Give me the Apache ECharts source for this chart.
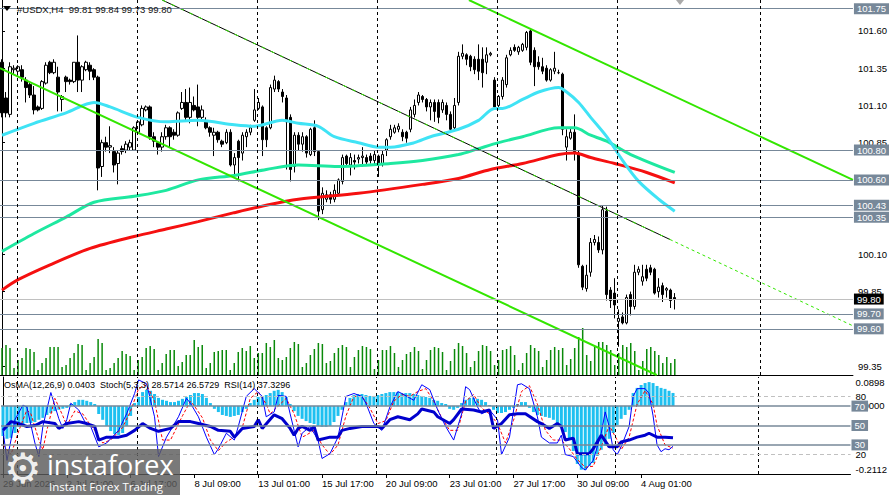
<!DOCTYPE html>
<html>
<head>
<meta charset="utf-8">
<title>USDX H4</title>
<script src="https://cdn.jsdelivr.net/npm/echarts@6/dist/echarts.min.js"></script>
<style>
html, body { margin: 0; padding: 0; background: #fff; }
#chart { width: 890px; height: 495px; }
</style>
</head>
<body>
<div id="chart"></div>
<script>
// slots on the time axis (bars + empty space on the right)
var slotCount = 213;
var labelStep = 16;
var timeLabels = ['29 Jun 2026', '2 Jul 01:00', '6 Jul 17:00', '8 Jul 09:00', '13 Jul 01:00', '15 Jul 17:00',
	'20 Jul 09:00', '23 Jul 01:00', '27 Jul 17:00', '30 Jul 09:00', '4 Aug 01:00'];
var weekBars = [3.7, 33.7, 63.7, 93.6, 123.6, 153.6, 189.3];

// [open, close, low, high]
var candles = [
	[101.39,101.05,101.02,101.41],[101.15,101.05,101.02,101.19],[101.04,101.36,101.02,101.39],[101.34,101.35,101.31,101.37],
	[101.33,101.36,101.30,101.37],[101.34,101.29,101.26,101.37],[101.27,101.22,101.12,101.29],[101.24,101.17,101.15,101.25],
	[101.17,101.07,101.04,101.23],[101.09,101.07,101.06,101.10],[101.08,101.26,101.07,101.27],[101.25,101.37,101.24,101.39],
	[101.39,101.32,101.31,101.40],[101.32,101.39,101.31,101.41],[101.29,101.19,101.06,101.36],[101.14,101.16,101.06,101.17],
	[101.29,101.26,101.19,101.30],[101.27,101.26,101.24,101.28],[101.26,101.39,101.25,101.39],[101.39,101.27,101.19,101.57],
	[101.27,101.36,101.19,101.37],[101.34,101.39,101.33,101.40],[101.37,101.33,101.27,101.39],[101.34,101.29,101.27,101.35],
	[101.29,100.68,100.53,101.30],[100.69,100.85,100.62,100.87],[100.85,100.82,100.79,100.89],[100.82,100.83,100.78,100.96],
	[100.79,100.70,100.65,100.82],[100.71,100.78,100.57,100.80],[100.81,100.79,100.77,100.83],[100.80,100.84,100.78,100.86],
	[100.82,100.85,100.80,100.87],[100.80,100.95,100.80,100.96],[100.92,100.99,100.91,101.00],[100.97,101.08,100.96,101.10],
	[101.07,101.09,101.06,101.10],[101.09,100.89,100.87,101.10],[100.89,100.86,100.82,100.92],[100.85,100.82,100.77,100.86],
	[100.82,100.89,100.79,100.92],[100.89,100.95,100.87,100.97],[100.95,100.89,100.82,100.96],[100.92,100.90,100.87,100.94],
	[100.90,101.05,100.89,101.06],[101.08,101.12,101.07,101.19],[101.12,101.02,101.00,101.21],[101.02,101.12,100.98,101.22],
	[101.10,101.07,101.06,101.16],[101.09,101.02,100.96,101.24],[101.02,101.07,101.00,101.10],[100.99,100.95,100.94,101.02],
	[100.95,100.92,100.89,100.96],[100.90,100.92,100.76,100.95],[100.92,100.87,100.85,100.93],[100.86,100.84,100.82,100.87],
	[100.85,100.92,100.84,100.94],[100.92,100.70,100.69,100.94],[100.70,100.75,100.62,100.78],[100.86,100.75,100.59,100.87],
	[100.78,100.90,100.73,100.92],[100.89,100.92,100.82,100.94],[100.92,100.95,100.90,100.97],[101.00,101.07,100.99,101.21],
	[101.08,101.12,101.07,101.15],[101.09,100.87,100.76,101.10],[100.95,100.87,100.82,100.96],[100.95,101.22,100.94,101.24],
	[101.21,101.27,101.19,101.30],[101.26,101.21,101.19,101.27],[101.19,101.16,101.12,101.21],[101.15,100.99,100.67,101.17],
	[101.02,100.67,100.59,101.04],[100.69,100.90,100.65,100.92],[100.90,100.84,100.80,100.92],[100.84,100.89,100.79,100.92],
	[100.89,100.78,100.75,100.90],[100.77,100.94,100.76,100.95],[100.95,100.79,100.76,101.00],[100.79,100.39,100.33,100.80],
	[100.40,100.51,100.37,100.55],[100.47,100.50,100.45,100.53],[100.50,100.47,100.44,100.52],[100.47,100.53,100.45,100.57],
	[100.51,100.60,100.50,100.61],[100.59,100.75,100.57,100.77],[100.76,100.71,100.69,100.77],[100.70,100.75,100.63,100.78],
	[100.73,100.72,100.67,100.77],[100.74,100.75,100.71,100.77],[100.75,100.76,100.69,100.82],[100.75,100.72,100.70,100.77],
	[100.76,100.73,100.71,100.78],[100.73,100.77,100.70,100.80],[100.76,100.71,100.62,100.77],[100.71,100.77,100.69,100.80],
	[100.80,100.87,100.76,100.88],[100.89,100.94,100.87,100.97],[100.92,100.95,100.91,100.97],[100.94,100.96,100.92,100.98],
	[100.92,100.89,100.86,100.94],[100.92,100.88,100.85,100.93],[100.94,101.07,100.92,101.09],[101.04,101.10,101.02,101.14],
	[101.12,101.17,101.10,101.19],[101.16,101.14,101.12,101.17],[101.14,101.09,101.06,101.15],[101.09,101.12,101.00,101.14],
	[101.12,101.06,100.99,101.14],[101.12,101.02,100.98,101.14],[101.07,101.12,101.05,101.14],[101.10,101.04,101.00,101.12],
	[101.04,100.94,100.92,101.06],[100.95,101.10,100.94,101.15],[101.12,101.43,101.10,101.46],[101.43,101.45,101.41,101.51],
	[101.44,101.41,101.37,101.45],[101.43,101.36,101.33,101.44],[101.41,101.34,101.31,101.43],[101.41,101.33,101.27,101.51],
	[101.41,101.32,101.22,101.49],[101.39,101.44,101.31,101.49],[101.44,101.45,101.43,101.46],[101.27,101.09,101.07,101.29],
	[101.10,101.16,101.08,101.17],[101.16,101.27,101.14,101.29],[101.24,101.42,101.22,101.44],[101.44,101.47,101.43,101.49],
	[101.49,101.47,101.46,101.51],[101.46,101.49,101.44,101.50],[101.47,101.51,101.46,101.52],[101.49,101.59,101.47,101.60],
	[101.60,101.39,101.37,101.61],[101.47,101.36,101.23,101.49],[101.39,101.36,101.34,101.43],[101.36,101.33,101.31,101.42],
	[101.35,101.27,101.26,101.37],[101.27,101.34,101.26,101.35],[101.33,101.35,101.31,101.46],[101.32,101.32,101.31,101.34],
	[101.31,100.94,100.90,101.32],[100.82,100.89,100.73,100.94],[100.88,100.92,100.87,100.95],[100.92,100.79,100.73,101.04],
	[100.78,100.03,100.01,100.80],[100.02,99.88,99.86,100.03],[99.87,99.96,99.85,100.03],[99.98,100.18,99.95,100.21],
	[100.18,100.20,100.16,100.23],[100.18,100.13,100.11,100.22],[100.13,100.40,100.10,100.43],[100.39,99.83,99.79,100.42],
	[99.86,99.79,99.74,99.88],[99.84,99.76,99.67,99.94],[99.65,99.67,99.48,99.73],[99.68,99.64,99.63,99.71],
	[99.64,99.81,99.63,99.83],[99.83,99.75,99.69,99.85],[99.75,99.98,99.73,100.03],[99.98,100.00,99.96,100.02],
	[99.92,99.95,99.89,100.03],[100.00,99.94,99.92,100.03],[100.01,99.98,99.96,100.03],[100.00,99.84,99.83,100.01],
	[99.85,99.88,99.81,99.94],[99.89,99.83,99.78,99.91],[99.86,99.87,99.81,99.88],[99.86,99.79,99.74,99.87],
	[99.81,99.80,99.73,99.84]
];

var volumes = [
	27,30,27,7,15,17,27,26,23,5, 12,17,28,28,28,8,10,17,22,31, 30,5,12,18,36,32,5,7,12,17,
	24,21,19,5,15,18,27,29,26,5, 12,21,25,25,9,13,20,20,35,28, 30,7,12,23,24,25,25,5,12,23,
	27,24,29,17,22,22,32,28,35,17, 15,18,27,33,31,
	8,12,20,26,32,31, 12,14,22,27,30,28, 8,18,25,29,28,26, 6,15,25,25,29,22, 8,15,21,23,28,24,
	6,15,25,28,27,23, 5,14,26,32,29,22, 8,14,24,30,29,24, 10,15,25,26,29,20, 5,12,22,30,27,24,
	8,15,25,28,25,27, 10,16,27,38,47,20, 14,28,33,33,30,25, 10,22,30,28,32,24, 5,14,26,28,24,20,
	12,18,12,16
];

// moving averages sampled along the curve: [bar, price]
var maCyan = [[0,100.90],[8,100.98],[16,101.05],[23,101.12],[27,101.09],[34,101.02],[41,100.99],[49,101.00],[58,100.97],
	[63,100.96],[70,101.00],[74,100.98],[79,100.96],[83,100.89],[89,100.85],[94,100.82],[97,100.82],[103,100.85],[107,100.89],
	[114,100.94],[119,101.00],[123,101.08],[125,101.08],[130,101.14],[134,101.19],[139,101.22],[141,101.19],[144,101.12],
	[147,101.02],[151,100.89],[155,100.73],[159,100.59],[164,100.47],[168,100.39]];
var maGreen = [[0,100.12],[8,100.24],[16,100.35],[23,100.45],[33,100.49],[41,100.53],[49,100.60],[58,100.63],[66,100.67],
	[74,100.70],[84,100.69],[97,100.71],[105,100.73],[114,100.77],[119,100.81],[124,100.85],[130,100.89],[139,100.95],
	[143,100.95],[147,100.90],[151,100.86],[157,100.77],[168,100.65]];
var maRed = [[0,99.86],[4,99.93],[12,100.03],[22,100.14],[33,100.22],[41,100.27],[49,100.32],[58,100.38],[66,100.43],
	[74,100.47],[89,100.51],[105,100.57],[114,100.61],[122,100.67],[130,100.71],[139,100.77],[143,100.78],[147,100.75],
	[153,100.71],[161,100.65],[168,100.58]];

// drawn trend lines: [bar, price]
var channelLow = [[-0.5,101.35],[163.5,99.29]];
var channelHigh = [[116.6,101.808],[212.5,100.60]];
var midLine = [[40,101.808],[166.8,100.20]];
var midRay = [[166.8,100.20],[212.5,99.62]];

var levels = [101.75, 100.80, 100.60, 100.43, 100.35, 99.70, 99.60];
var lastPrice = 99.80;
var priceTicks = [99.35, 99.85, 100.10, 100.85, 101.10, 101.35, 101.60];

var osma = [
	-0.093,-0.102,-0.099,-0.084,-0.065,-0.056,-0.053,-0.053,-0.050,-0.043,-0.037,-0.028,-0.022,-0.016,-0.012,-0.009,
	-0.006,0.006,0.012,0.019,0.019,0.016,0.012,0.006,-0.025,-0.043,-0.062,-0.078,-0.087,-0.090,-0.084,-0.062,
	-0.031,0.009,0.028,0.043,0.050,0.047,0.037,0.025,0.019,0.016,0.012,0.012,0.016,0.022,0.028,0.034,
	0.040,0.040,0.037,0.025,0.009,-0.009,-0.019,-0.028,-0.031,-0.034,-0.031,-0.028,-0.019,-0.009,0.009,0.019,
	0.028,0.031,0.034,0.040,0.047,0.050,0.043,0.028,0.006,-0.016,-0.031,-0.040,-0.047,-0.053,-0.056,-0.062,
	-0.065,-0.065,-0.062,-0.050,-0.031,-0.012,0.012,0.025,0.034,0.037,0.037,0.034,0.031,0.031,0.034,0.037,
	0.040,0.043,0.043,0.043,0.040,0.040,0.040,0.037,0.034,0.031,0.028,0.025,0.019,0.016,0.009,0.006,
	-0.009,-0.012,-0.006,0.009,0.019,0.025,0.025,0.022,0.019,0.012,0.003,-0.012,-0.022,-0.022,-0.019,-0.012,
	-0.006,0.006,0.012,0.012,-0.006,-0.019,-0.028,-0.031,-0.034,-0.037,-0.043,-0.053,-0.065,-0.081,-0.102,-0.140,
	-0.180,-0.198,-0.198,-0.186,-0.177,-0.155,-0.136,-0.124,-0.102,-0.084,-0.059,-0.040,-0.028,-0.012,0.040,0.056,
	0.065,0.071,0.074,0.071,0.062,0.056,0.053,0.047,0.0403
];

var stochMain = [[0,45],[1,14],[3,56],[5,71],[6,69],[8,32],[9,18],[10,49],[12,84],[14,57],[15,47],[16,56],[17,73],[19,66],
	[21,50],[22,49],[24,28],[26,32],[29,45],[31,62],[33,83],[34,97],[36,93],[38,59],[39,18],[41,38],[44,59],[46,78],[47,73],
	[49,59],[51,38],[53,20],[54,26],[56,42],[58,35],[59,49],[61,80],[63,88],[65,80],[66,59],[68,64],[69,81],[71,80],[72,62],
	[73,45],[74,28],[75,42],[77,49],[79,35],[80,16],[82,21],[84,38],[86,80],[88,83],[90,80],[91,73],[93,52],[95,45],[97,69],
	[99,85],[100,83],[103,76],[105,92],[107,87],[109,66],[111,49],[113,35],[115,62],[116,90],[117,87],[119,69],[120,62],
	[122,66],[124,56],[125,20],[127,38],[129,92],[130,93],[132,88],[134,59],[135,38],[137,32],[139,32],[140,40],[141,20],
	[143,18],[145,7],[146,4],[148,14],[150,42],[151,64],[152,49],[153,25],[154,20],[155,28],[157,49],[158,80],[159,88],
	[161,88],[162,83],[163,60],[164,30],[165,23],[166,26],[167,25],[168,28.57]];
var stochSignal = [[0,30],[2,20],[4,45],[6,66],[7,62],[9,35],[10,25],[11,45],[13,78],[15,60],[16,50],[18,65],[20,62],
	[22,50],[23,45],[25,32],[27,35],[30,48],[32,65],[34,88],[36,92],[38,75],[40,35],[42,35],[45,60],[47,75],[48,70],[50,58],
	[52,35],[54,24],[56,33],[58,38],[60,48],[62,78],[64,85],[66,72],[67,62],[69,70],[71,78],[73,62],[75,38],[76,40],[78,45],
	[80,30],[82,20],[84,30],[86,60],[88,80],[90,80],[92,68],[94,52],[96,55],[98,75],[100,82],[102,80],[104,85],[106,88],
	[108,75],[110,58],[112,45],[114,45],[116,75],[118,82],[120,68],[122,62],[124,52],[126,32],[128,55],[130,85],[132,91],
	[134,72],[136,45],[138,35],[140,35],[142,26],[144,15],[146,7],[148,8],[150,28],[152,50],[154,35],[155,25],[157,38],
	[159,72],[161,86],[163,72],[164,50],[166,30],[168,26.57]];
var rsi = [[0,45],[2,54],[4,52],[6,49],[8,50],[10,54],[13,52],[14,47],[16,52],[19,54],[21,52],[23,49],[24,35],[26,38],
	[29,38],[31,40],[33,45],[35,52],[37,47],[39,44],[42,47],[44,54],[47,54],[49,52],[52,49],[54,45],[57,44],[58,38],[60,47],
	[63,49],[64,56],[65,47],[68,61],[70,57],[72,47],[73,40],[74,47],[75,49],[77,45],[78,49],[79,35],[82,38],[84,38],[85,45],
	[87,47],[90,49],[94,49],[95,47],[97,56],[99,59],[102,56],[104,62],[105,67],[108,64],[109,59],[112,52],[113,56],[115,67],
	[118,66],[120,64],[122,66],[123,47],[125,52],[127,61],[129,62],[131,62],[134,54],[135,52],[137,47],[139,52],[140,49],
	[141,35],[143,37],[144,21],[147,21],[148,26],[150,40],[152,28],[154,28],[155,33],[157,35],[159,38],[161,40],[162,42],
	[164,38],[166,38],[168,37.33]];
var oscDashed = [80, 20];
var oscLevels = [70, 50, 30];

var font = 'Liberation Sans';
var slate = '#778899';

function boxLine(v, bg, lineColor) {
	return {
		yAxis: v,
		lineStyle: { color: lineColor, width: 1, type: 'solid' },
		label: {
			show: true, position: 'end', distance: 1, formatter: v.toFixed(2),
			backgroundColor: bg, color: '#fff', padding: [1, 3, 0, 3],
			fontSize: 9.5, fontFamily: font
		}
	};
}

function weekLines() {
	return {
		symbol: ['none', 'none'], silent: true, animation: false,
		lineStyle: { color: '#000', type: [3, 3], width: 1 },
		label: { show: false },
		data: weekBars.map(function(b) { return { xAxis: b }; })
	};
}

var slots = [];
for (var k = 0; k < slotCount; k++) slots.push(k);

function labelAt(idx) {
	return idx % labelStep === 0 && idx / labelStep < timeLabels.length;
}

var chart = echarts.init(document.getElementById('chart'), null, { renderer: 'svg' });

var option = {
	animation: false,
	backgroundColor: '#fff',
	grid: [
		{ left: 0, right: 37, top: 0, height: 375 },
		{ left: 0, right: 37, top: 315, height: 60 },
		{ left: 0, right: 37, top: 377, height: 97 }
	],
	xAxis: [
		{ gridIndex: 0, type: 'category', data: slots, boundaryGap: true,
			axisLine: { show: true, lineStyle: { color: '#000' } }, axisTick: { show: false }, axisLabel: { show: false } },
		{ gridIndex: 0, type: 'value', min: -0.5, max: slotCount - 0.5, show: false },
		{ gridIndex: 1, type: 'category', data: slots, show: false },
		{ gridIndex: 2, type: 'category', data: slots, boundaryGap: true,
			axisLine: { show: true, lineStyle: { color: '#000' } },
			axisTick: { show: true, alignWithLabel: true, interval: function(i) { return labelAt(i); }, length: 4, lineStyle: { color: '#000' } },
			axisLabel: {
				interval: function(i) { return labelAt(i); }, align: 'left', margin: 4,
				color: '#000', fontSize: 9.5, fontFamily: font,
				formatter: function(v, i) { return labelAt(i) ? timeLabels[i / labelStep] : ''; }
			} },
		{ gridIndex: 2, type: 'value', min: -0.5, max: slotCount - 0.5, show: false }
	],
	yAxis: [
		{ gridIndex: 0, type: 'value', position: 'right', min: 99.29, max: 101.808,
			axisLine: { show: true, lineStyle: { color: '#000' } },
			axisTick: { show: true, customValues: priceTicks, length: 3, lineStyle: { color: '#000' } },
			axisLabel: { customValues: priceTicks, formatter: function(v) { return v.toFixed(2); },
				color: '#000', fontSize: 9.5, fontFamily: font, margin: 5 },
			splitLine: { show: false } },
		{ gridIndex: 1, type: 'value', min: 0, max: 60, show: false },
		{ gridIndex: 2, type: 'value', position: 'right', min: 0, max: 100,
			axisLine: { show: true, lineStyle: { color: '#000' } },
			axisTick: { show: false },
			axisLabel: { customValues: oscDashed, color: '#000', fontSize: 9.5, fontFamily: font, margin: 5 },
			splitLine: { show: false } },
		{ gridIndex: 2, type: 'value', position: 'right', min: -0.2112, max: 0.0898,
			axisLine: { show: false }, axisTick: { show: false },
			axisLabel: { customValues: [-0.2112, 0, 0.0898], formatter: function(v) { return v.toFixed(4); },
				verticalAlignMinLabel: 'bottom', verticalAlignMaxLabel: 'top',
				color: '#000', fontSize: 9.5, fontFamily: font, margin: 5 },
			splitLine: { show: false } }
	],
	series: [
		{
			name: 'Volumes', type: 'bar', xAxisIndex: 2, yAxisIndex: 1, data: volumes,
			barWidth: 1.5, itemStyle: { color: '#0a8a0a' }, silent: true
		},
		{
			name: 'USDX', type: 'candlestick', xAxisIndex: 0, yAxisIndex: 0, data: candles,
			barWidth: 3,
			itemStyle: { color: '#fff', color0: '#000', borderColor: '#000', borderColor0: '#000', borderWidth: 1 },
			markLine: {
				symbol: ['none', 'none'], silent: true, animation: false,
				data: levels.map(function(v) { return boxLine(v, slate, slate); })
					.concat([boxLine(lastPrice, '#000', '#c0c0c0')])
			}
		},
		{ name: 'MA slow', type: 'line', xAxisIndex: 1, yAxisIndex: 0, data: maRed, smooth: 0.3, showSymbol: false,
			lineStyle: { color: '#f51010', width: 3 } },
		{ name: 'MA mid', type: 'line', xAxisIndex: 1, yAxisIndex: 0, data: maGreen, smooth: 0.3, showSymbol: false,
			lineStyle: { color: '#1ee8a0', width: 3 } },
		{ name: 'MA fast', type: 'line', xAxisIndex: 1, yAxisIndex: 0, data: maCyan, smooth: 0.3, showSymbol: false,
			lineStyle: { color: '#3fe3f5', width: 3 } },
		{ name: 'Channel low', type: 'line', xAxisIndex: 1, yAxisIndex: 0, data: channelLow, showSymbol: false,
			lineStyle: { color: '#33e600', width: 2 }, markLine: weekLines() },
		{ name: 'Channel high', type: 'line', xAxisIndex: 1, yAxisIndex: 0, data: channelHigh, showSymbol: false,
			lineStyle: { color: '#33e600', width: 2 } },
		{ name: 'Mid', type: 'line', xAxisIndex: 1, yAxisIndex: 0, data: midLine, showSymbol: false,
			lineStyle: { color: '#000', width: 1 } },
		{ name: 'Mid dash', type: 'line', xAxisIndex: 1, yAxisIndex: 0, data: midLine, showSymbol: false,
			lineStyle: { color: '#33e600', width: 1, type: [4, 6] } },
		{ name: 'Mid ray', type: 'line', xAxisIndex: 1, yAxisIndex: 0, data: midRay, showSymbol: false,
			lineStyle: { color: '#33e600', width: 1, type: [3, 3] } },
		{
			name: 'OsMA', type: 'bar', xAxisIndex: 3, yAxisIndex: 3, data: osma,
			barWidth: 3, itemStyle: { color: '#1ec0f0' }
		},
		{ name: 'Stoch signal', type: 'line', xAxisIndex: 4, yAxisIndex: 2, data: stochSignal, showSymbol: false,
			lineStyle: { color: '#ff0000', width: 1, type: [3, 2] } },
		{ name: 'Stoch', type: 'line', xAxisIndex: 4, yAxisIndex: 2, data: stochMain, showSymbol: false,
			lineStyle: { color: '#0000ff', width: 1 }, markLine: weekLines() },
		{
			name: 'RSI', type: 'line', xAxisIndex: 4, yAxisIndex: 2, data: rsi, showSymbol: false,
			lineStyle: { color: '#0000cd', width: 3 },
			markLine: {
				symbol: ['none', 'none'], silent: true, animation: false,
				data: oscDashed.map(function(v) {
					return { yAxis: v, lineStyle: { color: '#c0c0c0', type: [4, 3], width: 1 }, label: { show: false } };
				}).concat(oscLevels.map(function(v) {
					return { yAxis: v, lineStyle: { color: slate, type: 'solid', width: 1.5 },
						label: { show: true, position: 'end', distance: 1, formatter: String(v),
							backgroundColor: slate, color: '#fff', padding: [1, 3, 0, 3], fontSize: 9.5, fontFamily: font } };
				}))
			}
		}
	],
	graphic: [
		{ type: 'polygon', z: 100, shape: { points: [[3, 6], [11, 6], [7, 11]] }, style: { fill: '#000' } },
		{ type: 'text', z: 100, x: 17, y: 4, style: { text: '#USDX,H4  99.81 99.84 99.73 99.80', fill: '#111', fontSize: 9.5, fontFamily: font } },
		{ type: 'polygon', z: 100, shape: { points: [[676, 0], [684, 0], [680, 5]] }, style: { fill: '#aaa' } },
		{ type: 'text', z: 100, x: 4, y: 380, style: { text: 'OsMA(12,26,9) 0.0403  Stoch(5,3,3) 28.5714 26.5729  RSI(14) 37.3296', fill: '#000', fontSize: 9, fontFamily: font } },
		{ type: 'rect', z: 100, shape: { x: 0, y: 449, width: 180, height: 46 }, style: { fill: 'rgba(92,92,92,0.82)' } },
		{ type: 'text', z: 101, x: 4, y: 447, style: { text: '\u2699', fill: 'rgba(255,255,255,0.9)', fontSize: 42, fontFamily: 'DejaVu Sans' } },
		{ type: 'text', z: 101, x: 47, y: 451, style: { text: 'instaforex', fill: '#fff', fontSize: 27, fontFamily: 'Open Sans' } },
		{ type: 'text', z: 101, x: 49, y: 480, style: { text: 'Instant Forex Trading', fill: '#fff', fontSize: 11.5, fontFamily: 'Open Sans' } }
	]
};

chart.setOption(option);
</script>
</body>
</html>
